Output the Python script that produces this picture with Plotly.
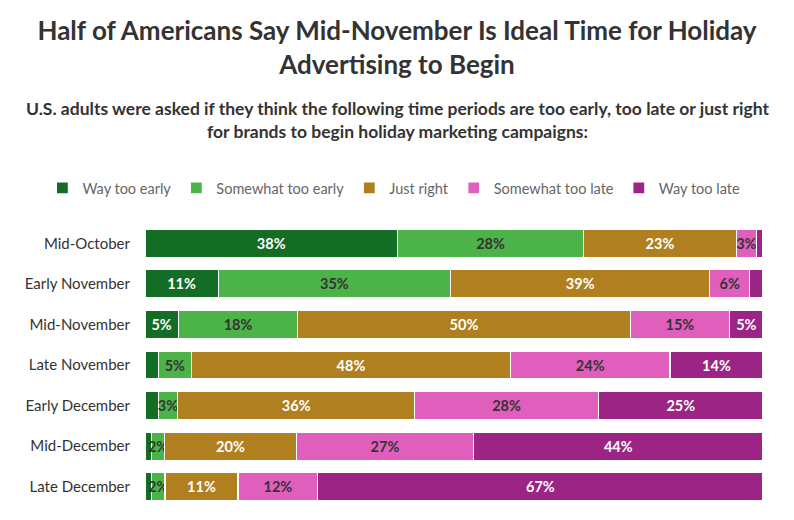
import plotly.graph_objects as go

categories = ["Mid-October", "Early November", "Mid-November", "Late November",
              "Early December", "Mid-December", "Late December"]

series_names = ["Way too early", "Somewhat too early", "Just right",
                "Somewhat too late", "Way too late"]

way_too_early = [38, 11, 5, 2, 2, 1, 1]
somewhat_too_early = [28, 35, 18, 5, 3, 2, 2]
just_right = [23, 39, 50, 48, 36, 20, 11]
somewhat_too_late = [3, 6, 15, 24, 28, 27, 12]
way_too_late = [1, 2, 5, 14, 25, 44, 67]

# which segments carry a printed label in the original
labelled = [
    [True, True, True, False, False, False, False],
    [True, True, True, True, True, True, True],
    [True, True, True, True, True, True, True],
    [True, True, True, True, True, True, True],
    [False, False, True, True, True, True, True],
]

colors = ["#146d24", "#4cb349", "#b07f1f", "#e05fbd", "#9c2484"]
text_colors = ["white", "#333333", "white", "#333333", "white"]

values = [way_too_early, somewhat_too_early, just_right, somewhat_too_late, way_too_late]

FONT = "Lato"

# plot area in pixels
L, R, T, B = 145, 31, 223, 13
PH = 520 - T - B


def py(pix):
    """pixel y (from top) -> paper y"""
    return (520 - B - pix) / PH


fig = go.Figure()
for name, vals, lab, col, tcol in zip(series_names, values, labelled, colors, text_colors):
    fig.add_trace(go.Bar(
        name=name,
        y=categories,
        x=vals,
        orientation="h",
        marker=dict(color=col, line=dict(color="white", width=1.2)),
        text=[f"{v}%" if show else "" for v, show in zip(vals, lab)],
        textposition="inside",
        insidetextanchor="middle",
        textangle=0,
        textfont=dict(color=tcol, size=14.5, family=FONT, weight="bold"),
        hoverinfo="skip",
    ))

fig.update_layout(
    width=794, height=520,
    barmode="stack",
    barnorm="percent",
    bargap=0.31,
    plot_bgcolor="white",
    paper_bgcolor="white",
    margin=dict(l=L, r=R, t=T, b=B, autoexpand=False),
    uniformtext=dict(minsize=14.5, mode="show"),
    font=dict(family=FONT, color="#333333"),
    title=dict(
        text="Half of Americans Say Mid-November Is Ideal Time for Holiday<br>Advertising to Begin",
        x=0.5, xref="container", xanchor="center",
        y=1 - 40 / 520, yref="container", yanchor="middle",
        font=dict(family=FONT, size=26, color="#333333", weight="bold"),
    ),
    legend=dict(
        orientation="h",
        x=-0.166, xref="paper", xanchor="left",
        y=py(188), yref="paper", yanchor="middle",
        font=dict(family=FONT, size=14.5, color="#666666"),
        traceorder="normal",
        itemwidth=30,
    ),
    showlegend=True,
)

fig.add_annotation(
    text="U.S. adults were asked if they think the following time periods are too early, too late or just right<br>for brands to begin holiday marketing campaigns:",
    xref="paper", yref="paper",
    x=(397 - L) / 618, y=py(120),
    xanchor="center", yanchor="middle",
    showarrow=False,
    font=dict(family=FONT, size=17.5, color="#333333", weight="bold"),
    align="center",
)

fig.update_xaxes(visible=False, range=[0, 100], fixedrange=True)
fig.update_yaxes(autorange="reversed", showgrid=False, ticks="",
                 tickfont=dict(family=FONT, size=15, color="#333333"),
                 ticklabelstandoff=14)

fig.write_html("out.html", config={"displayModeBar": False},
               post_script="document.body.style.margin='0px';")
